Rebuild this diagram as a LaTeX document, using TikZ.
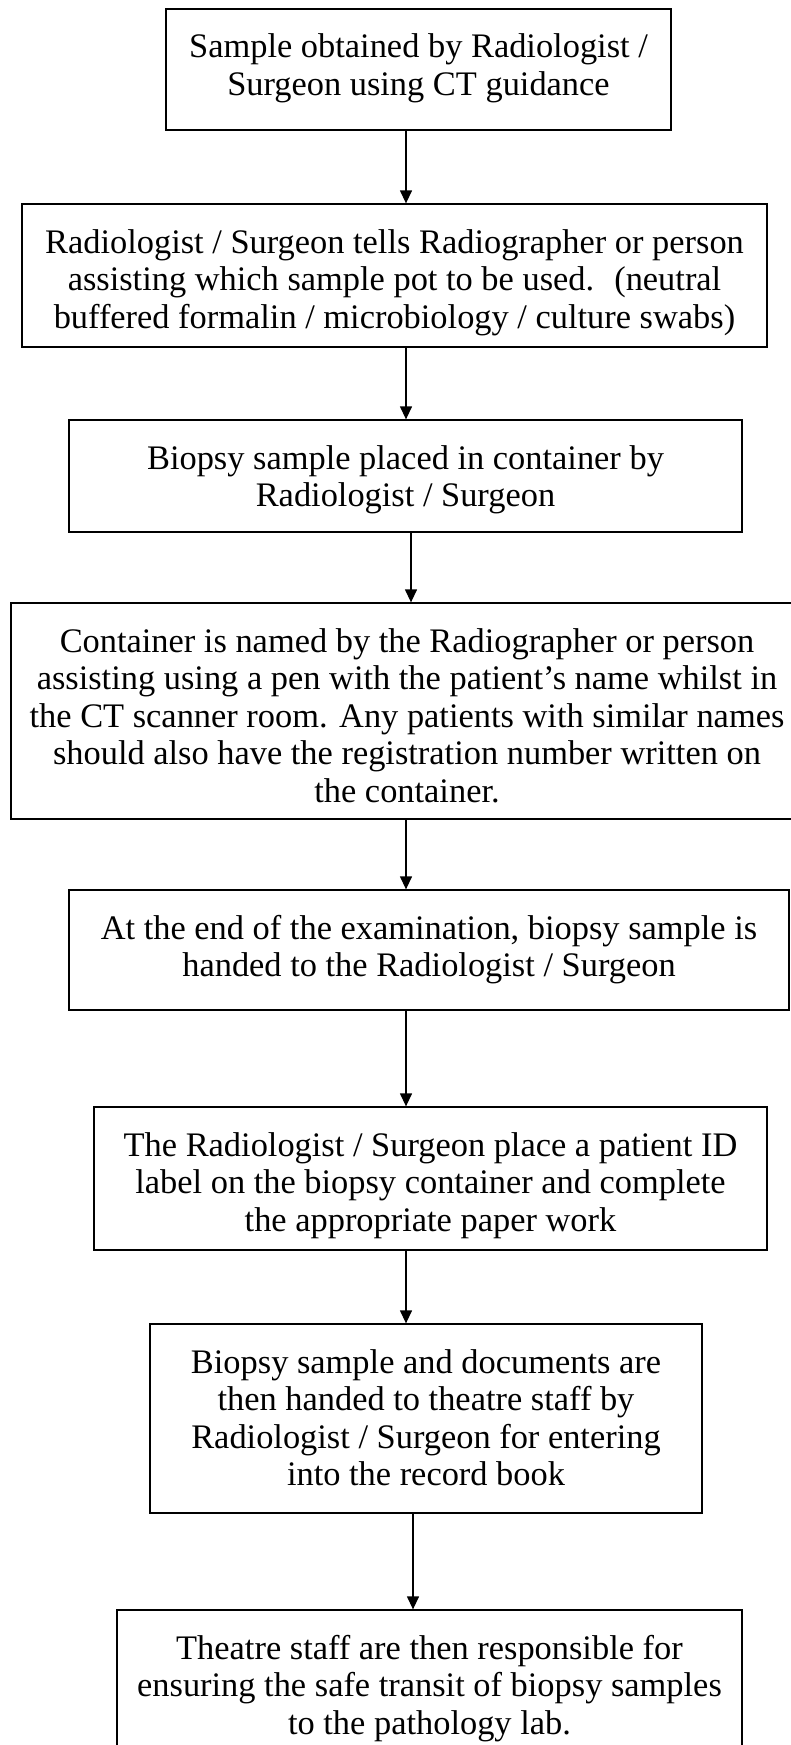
\documentclass[tikz,border=0pt]{standalone}
\usepackage{fontspec}
\setmainfont{Liberation Serif}
\usetikzlibrary{arrows.meta}
\tikzset{
  stepbox/.style={draw=black, line width=1.3pt, fill=white, inner sep=0pt,
    font=\fontsize{34.4pt}{37.5pt}\selectfont},
  flow/.style={line width=1.3pt, -{Triangle[length=13pt,width=12pt]}},
}
\newcommand{\boxtext}[3]{\parbox[c][#2][t]{#1}{\centering\rule{0pt}{49pt}#3}}
\begin{document}
\begin{tikzpicture}[x=1pt,y=-1pt]
\useasboundingbox (0,0) rectangle (790,1745);
\fill[white] (0,0) rectangle (790,1745);
\node[stepbox] (b1) at (418.5,69.5) {\boxtext{505pt}{121pt}{Sample obtained by Radiologist /\\Surgeon using CT guidance}};
\node[stepbox] (b2) at (394.5,275.5) {\boxtext{745pt}{143pt}{Radiologist / Surgeon tells Radiographer or person\\assisting which sample pot to be used.~ (neutral\\buffered formalin / microbiology / culture swabs)}};
\node[stepbox] (b3) at (405.5,476) {\boxtext{673pt}{112pt}{Biopsy sample placed in container by\\Radiologist / Surgeon}};
\node[stepbox] (b4) at (407,711) {\boxtext{792pt}{216pt}{Container is named by the Radiographer or person\\assisting using a pen with the patient’s name whilst in\\the CT scanner room. Any patients with similar names\\should also have the registration number written on\\the container.}};
\node[stepbox] (b5) at (429,950) {\boxtext{720pt}{120pt}{At the end of the examination, biopsy sample is\\handed to the Radiologist / Surgeon}};
\node[stepbox] (b6) at (430.5,1178.5) {\boxtext{673pt}{143pt}{The Radiologist / Surgeon place a patient ID\\label on the biopsy container and complete\\the appropriate paper work}};
\node[stepbox] (b7) at (426,1418.5) {\boxtext{552pt}{189pt}{Biopsy sample and documents are\\then handed to theatre staff by\\Radiologist / Surgeon for entering\\into the record book}};
\node[stepbox] (b8) at (429.5,1690) {\boxtext{625pt}{160pt}{Theatre staff are then responsible for\\ensuring the safe transit of biopsy samples\\to the pathology lab.}};
\coordinate (ca) at (406,0);
\coordinate (cb) at (411,0);
\coordinate (cc) at (413,0);
\draw[flow] (ca |- b1.south) -- (ca |- b2.north);
\draw[flow] (ca |- b2.south) -- (ca |- b3.north);
\draw[flow] (cb |- b3.south) -- (cb |- b4.north);
\draw[flow] (ca |- b4.south) -- (ca |- b5.north);
\draw[flow] (ca |- b5.south) -- (ca |- b6.north);
\draw[flow] (ca |- b6.south) -- (ca |- b7.north);
\draw[flow] (cc |- b7.south) -- (cc |- b8.north);
\end{tikzpicture}
\end{document}
